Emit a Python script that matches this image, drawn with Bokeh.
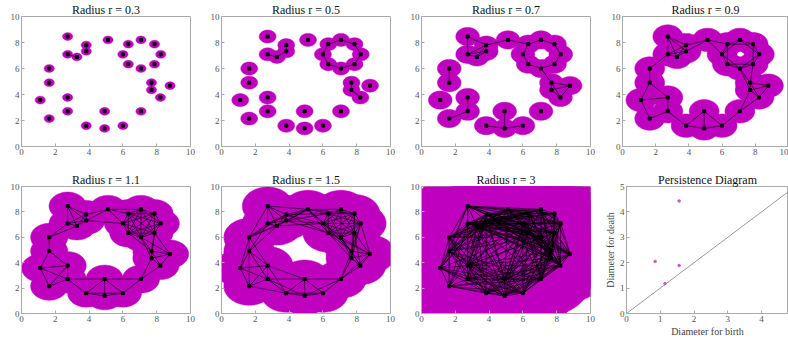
import numpy as np
from bokeh.plotting import figure
from bokeh.layouts import row, column
from bokeh.models import FixedTicker, ColumnDataSource
from bokeh.embed import file_html
from bokeh.resources import INLINE

# ---- data ----
px = [2.73, 2.73, 3.28, 3.83, 3.83, 5.12, 6.00, 6.32, 7.07, 7.87, 8.24, 7.87, 7.07, 6.32,
      1.64, 1.64, 1.11, 2.73, 2.73, 1.64, 3.83, 4.92, 4.92, 6.00, 7.07, 7.69, 7.69, 8.22, 8.79]
py = [8.46, 7.09, 6.89, 7.80, 7.32, 8.20, 7.09, 7.87, 8.20, 7.87, 7.09, 6.33, 6.00, 6.33,
      6.00, 4.91, 3.57, 3.77, 2.71, 2.15, 1.60, 1.39, 2.71, 1.60, 2.71, 4.91, 4.35, 3.77, 4.68]
radii = [0.3, 0.5, 0.7, 0.9, 1.1, 1.5, 3]
radius_labels = ["0.3", "0.5", "0.7", "0.9", "1.1", "1.5", "3"]
cloud_ticks = [0, 2, 4, 6, 8, 10]

birth = [0.85, 1.14, 1.56, 1.56]
death = [2.05, 1.18, 1.89, 4.43]
diag = [0, 5]
pd_xticks = [0, 1, 2, 3, 4]
pd_yticks = [0, 1, 2, 3, 4, 5]

MAGENTA = "#BF00BF"
SERIF = "Liberation Serif"
AXC = "#aaaaaa"


def style(p, xt, yt):
    p.xaxis.ticker = FixedTicker(ticks=xt)
    p.yaxis.ticker = FixedTicker(ticks=yt)
    p.axis.major_tick_in = 3
    p.axis.major_tick_out = 0
    p.axis.minor_tick_line_color = None
    p.axis.axis_line_color = AXC
    p.axis.major_tick_line_color = AXC
    p.axis.major_label_text_font = SERIF
    p.axis.major_label_text_font_size = "9px"
    p.axis.major_label_text_color = "#555555"
    p.axis.major_label_standoff = 2
    p.xgrid.visible = False
    p.ygrid.visible = False
    p.outline_line_color = AXC
    p.title.text_font = SERIF
    p.title.text_font_size = "12px"
    p.title.text_font_style = "normal"
    p.title.text_color = "#111111"
    p.title.align = "center"
    p.title.standoff = 0


xs = np.array(px)
ys = np.array(py)
d = np.hypot(xs[:, None] - xs[None, :], ys[:, None] - ys[None, :])
theta = np.linspace(0, 2 * np.pi, 97)


def cloud_panel(r, lab, last, h, bottom):
    ii, jj = np.where(np.triu(d < 2 * r, k=1))
    src = ColumnDataSource(dict(x0=xs[ii], y0=ys[ii], x1=xs[jj], y1=ys[jj]))
    disks = ColumnDataSource(dict(
        xs=[x + r * np.cos(theta) for x in xs],
        ys=[y + r * np.sin(theta) for y in ys]))
    p = figure(width=188 if last else 200, height=h, x_range=(0, 10), y_range=(0, 10),
               output_backend="svg", toolbar_location=None,
               min_border_left=22 if last else 21, min_border_right=0 if last else 10,
               min_border_top=14, min_border_bottom=bottom,
               title="Radius r = " + lab)
    p.patches(xs="xs", ys="ys", source=disks, fill_color=MAGENTA, line_color=MAGENTA,
              line_width=0.5)
    p.segment(x0="x0", y0="y0", x1="x1", y1="y1", source=src, line_color="black",
              line_width=0.6)
    p.scatter(x=px, y=py, marker="square", size=3, color="black")
    style(p, cloud_ticks, cloud_ticks)
    return p


row1 = [cloud_panel(radii[i], radius_labels[i], i == 3, 170, 24) for i in range(4)]
row2 = [cloud_panel(radii[i], radius_labels[i], False, 169, 23) for i in range(4, 7)]

pd = figure(width=188, height=169, x_range=(0, 4.8), y_range=(0, 5),
            output_backend="svg", toolbar_location=None,
            min_border_left=26, min_border_right=0, min_border_top=14, min_border_bottom=23,
            title="Persistence Diagram")
pd.line(x=diag, y=diag, line_color="#999999", line_width=1)
pd.scatter(x=birth, y=death, marker="circle", size=2.5, color="#CC55CC")
style(pd, pd_xticks, pd_yticks)
pd.xaxis.axis_label = "Diameter for birth"
pd.yaxis.axis_label = "Diameter for death"
pd.axis.axis_label_text_font = SERIF
pd.axis.axis_label_text_font_size = "10px"
pd.axis.axis_label_text_font_style = "normal"
pd.axis.axis_label_text_color = "#444444"
pd.axis.axis_label_standoff = 1
row2.append(pd)

layout = column(row(*row1), row(*row2))
open("out.html", "w").write(file_html(layout, INLINE))
